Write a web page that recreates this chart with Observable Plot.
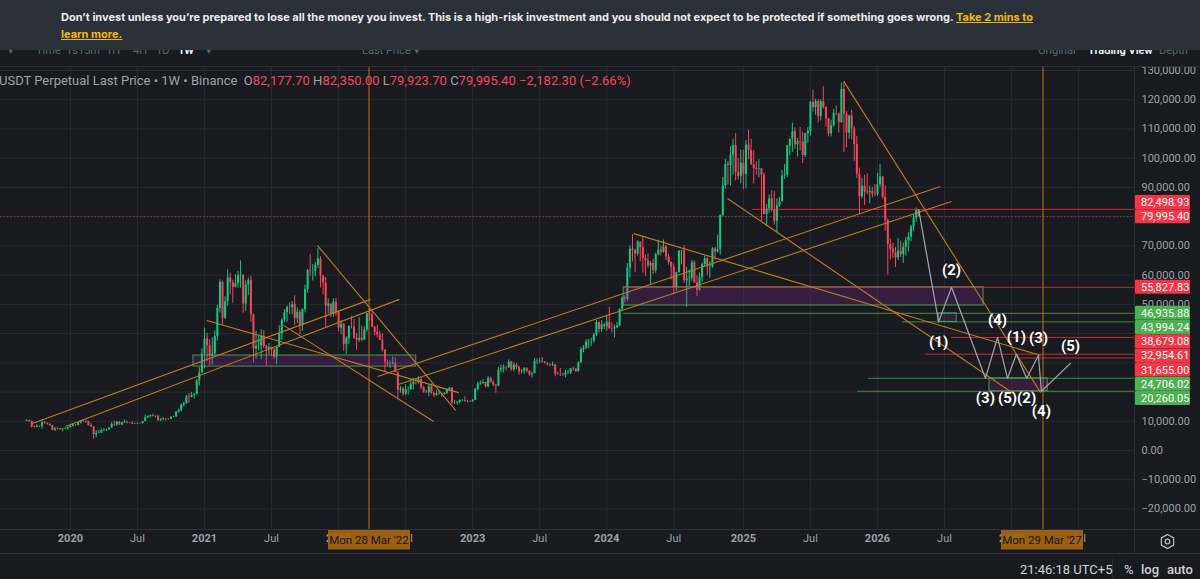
<!DOCTYPE html>
<html>
<head>
<meta charset="utf-8">
<title>BTCUSDT Perpetual · 1W</title>
<script src="https://cdn.jsdelivr.net/npm/d3@7"></script>
<script src="https://cdn.jsdelivr.net/npm/@observablehq/plot@0.6"></script>
<style>
  html, body { margin: 0; padding: 0; width: 1200px; height: 579px; overflow: hidden; background: #181a1f; }
  body { position: relative; font-family: Roboto, "Liberation Sans", sans-serif; }
  #chart { position: absolute; left: 0; top: 0; }
  #chart svg { display: block; }
  .abs { position: absolute; white-space: nowrap; }
  .rule { position: absolute; background: #2b2f36; }
  #toolbar span { position: absolute; top: 44px; font-size: 11px; line-height: 13px; color: #5e6673; white-space: nowrap; }
  #banner { position: absolute; left: 0; top: 0; width: 1200px; height: 50px; background: #2b3139; }
  #banner div { position: absolute; left: 61px; color: #eaecef; font: 700 11px Inter, "Noto Sans", sans-serif; white-space: nowrap; }
  #banner span { color: #f0b90b; text-decoration: underline; }
  #legend { left: -1px; top: 73px; font-size: 13px; line-height: 16px; color: #9ea2ab; }
  #legend .v { color: #f6465d; }
  #status span { position: absolute; top: 562px; font-size: 13px; line-height: 15px; color: #d1d4dc; white-space: nowrap; }
</style>
</head>
<body>
<div id="chart"></div>

<div id="toolbar">
  <span style="left:8px">▾</span>
  <span style="left:36px">Time</span>
  <span style="left:66px">1s</span>
  <span style="left:78px">15m</span>
  <span style="left:106px">1H</span>
  <span style="left:133px">4H</span>
  <span style="left:156px">1D</span>
  <span style="left:178px;color:#eaecef;font-weight:700">1W</span>
  <span style="left:206px">▾</span>
  <span style="left:362px">Last Price ▾</span>
  <span style="left:1038px">Original</span>
  <span style="left:1088px;color:#eaecef;font-weight:700">Trading View</span>
  <span style="left:1159px">Depth</span>
</div>

<div id="banner">
  <div style="top:10px">Don’t invest unless you’re prepared to lose all the money you invest. This is a high-risk investment and you should not expect to be protected if something goes wrong. <span>Take 2 mins to</span></div>
  <div style="top:27px"><span>learn more.</span></div>
</div>

<div class="rule" style="left:0;top:66px;width:1200px;height:1px"></div>
<div class="rule" style="left:1134px;top:66px;width:1px;height:487px"></div>
<div class="rule" style="left:0;top:529px;width:1200px;height:1px"></div>
<div class="rule" style="left:0;top:553px;width:1200px;height:1px"></div>
<div class="rule" style="left:1112px;top:559px;width:1px;height:20px"></div>

<div id="legend" class="abs"></div>

<svg class="abs" style="left:1159px;top:533px" width="17" height="17" viewBox="0 0 17 17">
  <path d="M8.5 1.5 L14.6 5 L14.6 12 L8.5 15.5 L2.4 12 L2.4 5 Z" fill="none" stroke="#b7bac1" stroke-width="1.3"/>
  <circle cx="8.5" cy="8.5" r="2.3" fill="none" stroke="#b7bac1" stroke-width="1.3"/>
</svg>

<div id="status">
  <span style="left:1020px">21:46:18 UTC+5</span>
  <span style="left:1124px">%</span>
  <span style="left:1141px;font-weight:500">log</span>
  <span style="left:1167px;font-weight:500">auto</span>
</div>

<script>
// Weekly bars in thousands of USDT, one [high, low, close] per week, Monday opens.
// Each week opens at the previous week's close.
const firstWeek = "2019-09-09";
const firstOpen = 10.0;

const bars2019 = [
  [10.5,9.9,10.3],[10.4,9.6,10.0],[10.0,7.7,8.0],[8.5,7.75,7.9],[8.8,7.8,8.3],[8.4,7.9,8.2],
  [10.5,7.3,9.5],[9.9,9.0,9.2],[9.5,8.7,9.0],[9.1,8.3,8.5],[8.5,6.8,6.9],[7.9,6.5,7.4],
  [7.8,7.1,7.5],[7.6,7.0,7.1],[7.5,6.4,7.3],[7.7,7.1,7.4],[7.9,6.9,7.8]
];
const bars2020 = [
  [8.5,7.7,8.2],[9.2,8.1,8.7],[8.8,8.3,8.6],[9.6,8.5,9.35],[10.2,9.1,10.15],[10.5,9.7,9.9],
  [10.2,9.3,9.95],[9.9,8.4,8.5],[9.2,8.0,8.0],[8.2,3.8,5.4],[6.9,4.4,5.8],[6.9,5.7,5.9],
  [7.4,5.9,6.8],[7.5,6.5,6.9],[7.3,6.5,7.1],[7.8,6.8,7.7],[9.5,7.6,8.9],[10.0,8.2,8.75],
  [9.9,8.2,9.7],[9.9,8.6,8.7],[9.7,8.6,9.45],[10.4,9.3,9.7],[10.0,9.1,9.4],[9.6,9.2,9.3],
  [9.8,8.9,9.0],[9.3,8.9,9.1],[9.5,9.0,9.25],[9.3,9.0,9.2],[10.0,9.1,9.9],[12.1,9.9,11.1],
  [11.9,10.9,11.6],[12.1,11.1,11.9],[12.5,11.5,11.6],[11.8,11.1,11.7],[12.1,9.9,10.3],[10.8,9.9,10.7],
  [11.2,10.2,10.9],[11.0,10.1,10.8],[10.9,10.4,10.7],[11.5,10.5,11.4],[11.7,11.2,11.5],[13.3,11.3,13.1],
  [14.1,12.8,13.8],[15.9,13.2,15.5],[16.5,14.8,16.0],[18.8,15.8,18.4],[19.5,16.2,18.2],[19.9,18.0,18.8],
  [19.4,17.6,19.2],[24.3,19.0,23.8],[28.4,22.0,26.5],[34.8,26.6,33.0]
];
const bars2021 = [
  [41.9,28.1,38.2],[40.1,30.4,35.8],[37.9,28.9,32.3],[38.5,29.2,33.1],[40.9,32.3,39.0],[49.7,37.4,48.6],
  [58.4,47.0,57.5],[58.0,43.0,45.2],[52.6,44.9,50.9],[61.8,49.4,59.0],[60.6,53.3,57.4],[58.2,50.4,55.8],
  [60.0,55.6,57.1],[61.2,55.5,59.8],[64.9,55.5,60.0],[57.0,47.0,50.1],[58.0,47.5,56.6],[59.0,52.9,58.2],
  [59.6,43.8,46.4],[46.7,30.0,34.7],[40.8,31.2,35.7],[39.5,34.0,35.8],[41.3,31.0,39.1],[41.0,34.8,35.6],
  [36.0,28.8,34.7],[36.6,32.7,35.3],[35.1,32.0,34.3],[34.9,31.1,31.8],[35.4,29.3,35.4],[42.6,35.2,39.9],
  [45.0,37.6,44.6],[48.2,43.8,47.1],[49.4,43.9,49.0],[50.5,46.4,48.8],[51.0,46.5,49.9],[52.9,42.8,45.2],
  [48.8,43.4,47.3],[48.0,39.6,42.8],[48.4,40.8,48.2],[56.6,47.1,55.0],[62.0,53.9,61.5],[67.0,59.5,61.3],
  [63.7,58.0,61.3],[64.2,59.4,63.3],[69.0,62.3,65.5],[66.3,55.6,59.7],[59.3,53.3,57.3],[59.2,42.0,49.4],
  [51.9,46.7,50.1],[50.0,45.5,46.7],[51.9,45.6,50.8],[52.0,45.9,47.3]
];
const bars2022 = [
  [47.6,40.5,41.9],[44.4,39.7,43.1],[43.5,34.0,36.3],[38.9,32.9,38.2],[42.7,36.3,42.4],[45.9,41.6,42.2],
  [44.8,38.0,38.4],[40.0,34.3,37.7],[45.4,37.0,38.4],[42.6,37.2,37.8],[42.3,37.6,41.3],[46.5,40.5,46.8],
  [48.2,44.3,46.4],[47.5,42.1,42.2],[42.4,39.2,40.4],[42.9,38.5,39.5],[40.8,37.6,37.7],[40.0,33.7,34.3],
  [34.5,26.7,30.1],[31.0,28.6,29.4],[30.6,28.0,29.5],[32.0,29.3,29.9],[31.7,26.6,26.6],[26.9,17.6,20.6],
  [21.9,19.6,21.0],[21.5,18.6,19.3],[22.5,18.8,20.8],[21.7,18.9,20.8],[24.3,20.7,22.6],[24.7,20.7,23.3],
  [24.2,22.4,23.2],[25.2,22.7,24.3],[25.0,20.8,21.5],[21.9,19.6,20.0],[20.6,19.5,19.8],[22.5,18.5,21.8],
  [22.8,19.3,19.4],[19.9,18.1,18.8],[20.5,18.5,19.3],[20.5,19.0,19.4],[19.6,18.2,19.2],[19.7,18.9,19.6],
  [21.1,19.2,20.8],[21.5,20.1,21.3],[21.5,15.6,16.3],[17.2,15.8,16.3],[16.8,15.5,16.5],[17.4,16.0,17.1],
  [17.4,16.7,17.1],[18.4,16.5,16.8],[17.1,16.3,16.8],[16.9,16.4,16.6]
];
const bars2023 = [
  [17.4,16.5,17.1],[21.3,17.1,20.9],[23.4,20.4,22.7],[23.8,22.3,23.0],[24.2,22.6,23.3],[23.4,21.4,21.8],
  [25.3,21.4,24.6],[25.1,23.1,23.2],[23.9,21.8,22.4],[22.6,19.6,22.1],[28.5,21.9,27.4],[29.2,26.6,27.9],
  [29.2,26.5,28.4],[28.8,27.2,28.3],[31.0,28.1,30.3],[30.5,27.1,27.6],[30.0,26.9,29.2],[29.8,27.7,28.4],
  [28.9,25.8,26.9],[27.7,26.1,27.1],[28.4,26.1,28.0],[28.4,26.5,27.1],[27.4,25.4,25.9],[26.8,24.8,26.3],
  [31.4,26.2,30.5],[31.3,29.5,30.6],[31.5,29.7,30.2],[31.8,29.9,30.3],[30.4,29.6,29.8],[29.9,28.9,29.3],
  [29.7,28.6,29.1],[30.2,28.7,29.3],[29.4,25.2,26.1],[26.8,25.8,26.0],[28.1,25.3,25.8],[26.4,25.4,25.8],
  [27.4,24.9,26.5],[27.5,26.0,26.5],[28.0,26.0,28.0],[28.6,27.1,27.9],[28.0,26.6,27.0],[30.3,26.8,30.0],
  [35.2,29.9,34.5],[35.9,33.4,35.0],[38.0,34.5,37.1],[37.9,34.8,37.4],[38.4,35.6,37.4],[40.0,36.7,39.5],
  [44.5,39.0,43.8],[44.0,40.2,41.4],[44.4,40.5,43.0],[43.6,41.3,42.3]
];
const bars2024 = [
  [45.9,40.8,43.9],[49.0,41.5,41.7],[43.6,40.3,41.6],[42.9,38.5,42.0],[43.9,41.8,42.6],[48.5,42.3,48.3],
  [52.8,47.7,52.1],[53.0,50.5,51.7],[64.0,50.9,62.4],[70.0,59.0,68.9],[73.8,64.5,68.4],[68.9,60.8,67.2],
  [71.8,66.5,71.3],[71.3,64.5,69.4],[72.8,60.7,65.7],[66.9,59.6,64.9],[67.2,62.4,63.1],[64.7,56.5,64.0],
  [65.5,60.2,61.5],[67.5,60.6,67.0],[71.9,66.6,68.5],[70.0,66.6,67.8],[72.0,67.5,69.6],[70.2,65.0,66.2],
  [67.2,63.4,64.3],[64.5,58.4,62.7],[63.8,53.5,55.8],[61.0,54.3,60.8],[68.4,60.7,68.2],[68.5,63.5,68.3],
  [70.0,57.2,58.1],[62.7,49.0,58.7],[61.8,56.1,58.9],[65.0,57.9,64.2],[64.9,57.2,57.3],[59.8,52.6,54.8],
  [60.7,54.6,59.1],[64.1,57.5,63.6],[66.5,62.7,65.6],[66.0,59.8,62.8],[64.5,58.9,62.9],[69.4,62.4,69.0],
  [69.5,65.1,67.9],[73.6,67.5,68.8],[80.6,66.8,80.4],[93.4,80.0,90.5],[99.6,89.4,97.9],[98.9,90.8,97.5],
  [104.0,90.5,101.1],[106.5,94.2,104.3],[108.4,92.2,95.2],[99.9,92.5,93.7],[102.7,91.2,98.3]
];
const bars2025 = [
  [102.7,89.3,94.5],[106.0,89.5,104.5],[109.6,99.5,102.6],[106.5,97.7,97.7],[102.5,91.2,96.5],[98.8,94.1,96.1],
  [99.5,93.3,96.3],[96.5,78.2,94.2],[95.0,81.4,80.7],[84.1,76.6,82.6],[87.5,81.2,86.1],[88.8,81.6,82.4],
  [88.5,77.1,78.4],[86.1,74.5,83.7],[86.5,83.1,85.1],[95.8,85.1,94.0],[97.9,92.8,94.3],[104.3,93.4,104.2],
  [105.8,100.8,106.5],[112.0,102.0,109.0],[110.4,103.0,104.6],[106.8,100.4,105.7],[110.5,102.6,105.5],[108.9,98.2,100.9],
  [108.5,100.2,108.4],[110.5,105.1,109.2],[119.5,107.5,119.1],[123.2,115.7,117.3],[120.2,114.7,119.4],[120.0,112.0,114.2],
  [120.0,112.7,119.3],[124.5,116.8,117.4],[117.6,110.6,113.5],[113.5,107.3,108.3],[113.0,107.3,111.1],[116.7,110.6,115.3],
  [117.9,114.4,115.2],[115.4,108.6,112.2],[125.7,111.9,123.5],[126.2,102.0,115.1],[115.9,103.5,108.6],[114.0,106.5,114.5],
  [116.4,106.3,110.0],[110.8,98.9,104.7],[107.5,93.0,94.5],[96.6,80.6,86.8],[93.1,86.1,90.4],[94.2,83.8,88.4],
  [94.6,87.5,88.2],[90.4,84.4,88.6],[90.0,86.4,87.7],[91.0,86.9,87.6]
];
const bars2026 = [
  [94.8,86.9,90.9],[97.9,90.0,93.6],[93.8,86.0,86.6],[90.5,75.0,78.6],[79.3,60.0,70.5],[72.3,65.1,68.8],
  [70.9,65.7,67.6],[69.5,62.6,65.9],[72.5,65.0,68.2],[71.6,66.0,67.0],[71.0,64.0,69.5],[72.8,66.5,71.8],
  [74.5,68.0,73.0],[77.0,71.5,76.5],[80.5,74.8,79.5],[83.0,78.0,82.1777]
];
// the running week, in full USDT
const lastBar = {open: 82177.70, high: 82350.00, low: 79923.70, close: 79995.40};

// price scale ticks and time scale labels
const priceTicks = [130000,120000,110000,100000,90000,80000,70000,60000,50000,40000,30000,20000,10000,0,-10000,-20000];
const yearTicks = ["2020-01-06","2021-01-04","2022-01-03","2023-01-02","2024-01-01","2025-01-06","2026-01-05","2027-01-04"];
const yearLabels = ["2020","2021","2022","2023","2024","2025","2026","2027"];
const julyTicks = ["2020-07-06","2021-07-05","2022-07-04","2023-07-03","2024-07-01","2025-07-07","2026-07-06","2027-07-05"];

// horizontal levels drawn from a start week to the price scale
const levelPrices = [82498.93, 55827.83, 46935.88, 43994.24, 38679.08, 32954.61, 31655.00, 24706.02, 20260.05];
const levelStarts = ["2025-01-31","2024-02-16","2024-02-16","2026-03-14","2026-07-25","2026-05-15","2027-01-28","2025-12-12","2025-11-12"];
const levelTones  = ["down","down","up","up","down","down","down","up","up"];

// rectangles
const zoneStarts = ["2020-12-05","2024-02-16","2026-06-20","2026-11-05"];
const zoneEnds   = ["2022-08-02","2026-10-20","2026-08-08","2027-04-12"];
const zoneLows   = [28700, 49600, 43994.24, 20260.05];
const zoneHighs  = [32500, 55827.83, 46935.88, 24706.02];

// trend lines: start and end anchors [date, price]
const trendStarts = [["2019-09-25",9240],["2019-12-24",8200],["2022-04-19",25300],["2022-06-14",22600],["2021-11-07",70100],
                     ["2021-01-10",44500],["2021-08-07",42800],["2024-03-14",74200],["2024-11-24",86200],["2025-10-06",126200]];
const trendEnds   = [["2022-03-31",51700],["2022-06-17",51700],["2026-06-25",90300],["2026-07-25",85200],["2022-11-17",13700],
                     ["2022-11-25",19800],["2022-09-18",9900],["2027-03-24",32500],["2027-01-09",19500],["2027-03-24",19800]];

// projected wave count
const waveDates  = ["2026-06-20","2026-07-25","2026-10-25","2026-11-27","2026-12-24","2027-01-17","2027-02-14","2027-03-18","2027-03-26","2027-06-13"];
const wavePrices = [43994.24, 55827.83, 24706.02, 38679.08, 24706.02, 32954.61, 24706.02, 32500, 20260.05, 29800];
const waveLabels = ["(1)","(2)","(3)","(4)","(5)","(1)","(2)","(3)","(4)","(5)"];
const waveSides  = ["below","above","below","above","below","above","below","above","below","above"];

// crosshair weeks
const cursorWeeks = ["2022-03-28","2027-03-29"];

const up = "#0ecb81", down = "#f6465d", tones = {up: "#4caf50", down: "#f23645"};
const orange = "#c27c1a", cursorColor = "#c0700e", grid = "#262a31", axisText = "#9ea2ab";
const font = "Roboto, 'Liberation Sans', sans-serif";
const day = d3.utcParse("%Y-%m-%d");
const fmt = d3.format(",.2f");
const farRight = day("2028-06-01"); // beyond the right edge; clipped to the frame

// candles
const weekly = [...bars2019, ...bars2020, ...bars2021, ...bars2022, ...bars2023, ...bars2024, ...bars2025, ...bars2026];
let prev = firstOpen;
const candles = weekly.map(([h, l, c], i) => {
  const o = prev; prev = c;
  return {date: d3.utcDay.offset(day(firstWeek), 7 * i), open: o * 1000, close: c * 1000,
          high: Math.max(h, o, c) * 1000, low: Math.min(l, o, c) * 1000};
});
const lastWeek = d3.utcDay.offset(day(firstWeek), 7 * weekly.length);
candles.push({date: lastWeek, ...lastBar});

const levels = levelPrices.map((p, i) => ({price: p, start: day(levelStarts[i]), tone: tones[levelTones[i]]}));
const zones = zoneStarts.map((s, i) => ({x1: day(s), x2: day(zoneEnds[i]), y1: zoneLows[i], y2: zoneHighs[i]}));
const trends = trendStarts.map((s, i) => ({x1: day(s[0]), y1: s[1], x2: day(trendEnds[i][0]), y2: trendEnds[i][1]}));
const waves = waveDates.map((d, i) => ({date: day(d), price: wavePrices[i], label: waveLabels[i], side: waveSides[i]}));
const wavePath = [{date: lastWeek, price: lastBar.high}, ...waves];

// crosshair verticals through the plot area, two device pixels wide so the hue survives image compression
function cursorLines(index, {x}, values, {height, marginTop, marginBottom}) {
  const g = d3.create("svg:g").attr("stroke", cursorColor).attr("stroke-width", 2).attr("stroke-opacity", 0.5);
  for (const w of cursorWeeks) {
    const cx = Math.floor(x(day(w)) / 2) * 2 + 1;
    g.append("line").attr("x1", cx).attr("x2", cx).attr("y1", marginTop).attr("y2", height - marginBottom);
  }
  return g.node();
}

// price tags on the right scale; the last price stays put and the others stack around it
function priceTags(index, {y}, values, {width, marginRight}) {
  const g = d3.create("svg:g").attr("font-family", font).attr("font-size", 11).attr("text-anchor", "start");
  const tags = levels.map(d => ({price: d.price, fill: d.tone, fixed: false}));
  tags.push({price: lastBar.close, fill: tones.down, fixed: true});
  tags.forEach(t => t.cy = y(t.price));
  tags.sort((a, b) => a.cy - b.cy);
  const k = tags.findIndex(t => t.fixed), h = 14.2;
  for (let i = k + 1; i < tags.length; ++i) tags[i].cy = Math.max(tags[i].cy, tags[i - 1].cy + h);
  for (let i = k - 1; i >= 0; --i) tags[i].cy = Math.min(tags[i].cy, tags[i + 1].cy - h);
  const x0 = width - marginRight + 1;
  g.selectAll("rect").data(tags).join("rect")
    .attr("x", x0).attr("y", t => t.cy - 7).attr("width", 55).attr("height", 14).attr("rx", 1)
    .attr("fill", t => t.fill);
  g.selectAll("text").data(tags).join("text")
    .attr("x", x0 + 6).attr("y", t => t.cy).attr("dy", "0.36em").attr("fill", "#ffffff")
    .text(t => fmt(t.price));
  return g.node();
}

// date tags on the time scale under each crosshair
function cursorTags(index, {x}, values, {height, marginBottom}) {
  const g = d3.create("svg:g").attr("font-family", font).attr("font-size", 11.5).attr("text-anchor", "middle");
  const y0 = height - marginBottom;
  const label = d3.utcFormat("%a %d %b '%y");
  for (const w of cursorWeeks) {
    const cx = x(day(w));
    g.append("rect").attr("x", cx - 41).attr("y", y0 + 0.5).attr("width", 82).attr("height", 20)
      .attr("fill", "#a8650f").attr("fill-opacity", 0.92);
    g.append("text").attr("x", cx).attr("y", y0 + 11).attr("dy", "0.35em")
      .attr("fill", "#15171c").text(label(day(w)));
  }
  return g.node();
}

const chart = Plot.plot({
  width: 1200,
  height: 579,
  marginTop: 66,
  marginRight: 66,
  marginBottom: 50,
  marginLeft: 0,
  style: {background: "transparent", fontFamily: font, overflow: "visible"},
  x: {type: "utc", domain: [day("2022-03-28"), day("2027-03-29")], range: [369, 1042], axis: null},
  y: {domain: [0, 130000], range: [450, 70], axis: null},
  marks: [
    // grid
    Plot.ruleY(priceTicks, {stroke: grid, strokeWidth: 1}),
    Plot.ruleX([...yearTicks, ...julyTicks].map(day), {stroke: grid, strokeWidth: 1, clip: true}),
    cursorLines,
    // last price line
    Plot.ruleY([lastBar.close], {stroke: down, strokeOpacity: 0.55, strokeDasharray: "1.5,2", clip: true}),
    // candles
    Plot.ruleX(candles, {x: "date", y1: "low", y2: "high", stroke: d => d.close >= d.open ? up : down, strokeWidth: 1}),
    Plot.ruleX(candles, {x: "date", y1: "open", y2: "close", stroke: d => d.close >= d.open ? up : down, strokeWidth: 2}),
    // zones
    Plot.rect(zones, {x1: "x1", x2: "x2", y1: "y1", y2: "y2", fill: "#9c27b0", fillOpacity: 0.22, stroke: "#4caf50", strokeOpacity: 0.85, strokeWidth: 1}),
    // levels
    Plot.ruleY(levels, {y: "price", x1: "start", x2: () => farRight, stroke: "tone", strokeOpacity: 0.75, strokeWidth: 1, clip: true}),
    // trend lines
    Plot.link(trends, {x1: "x1", y1: "y1", x2: "x2", y2: "y2", stroke: orange, strokeWidth: 1.1, clip: true}),
    // projected waves
    Plot.line(wavePath, {x: "date", y: "price", stroke: "#a3a6ad", strokeWidth: 1.2}),
    Plot.text(waves.filter(d => d.side === "above"), {x: "date", y: "price", text: "label", dy: -17, fill: "#ffffff", fontSize: 15, fontWeight: 700}),
    Plot.text(waves.filter(d => d.side === "below"), {x: "date", y: "price", text: "label", dy: 20, fill: "#ffffff", fontSize: 15, fontWeight: 700}),
    // price scale labels
    Plot.text(priceTicks, {y: d => d, text: d => fmt(d), frameAnchor: "right", dx: 7, textAnchor: "start", fill: axisText, fontSize: 11}),
    // time scale labels
    Plot.text(yearTicks.map(day), {x: d => d, text: (d, i) => yearLabels[i], frameAnchor: "bottom", dy: 12, fill: axisText, fontSize: 11, fontWeight: 700}),
    Plot.text(julyTicks.map(day), {x: d => d, text: () => "Jul", frameAnchor: "bottom", dy: 12, fill: axisText, fontSize: 11}),
    priceTags,
    cursorTags
  ]
});
document.getElementById("chart").append(chart);

// legend line
const o = lastBar;
const change = o.close - o.open;
document.getElementById("legend").innerHTML =
  `USDT Perpetual Last Price • 1W • Binance&nbsp;&nbsp;` +
  `O<span class="v">${fmt(o.open)}</span> H<span class="v">${fmt(o.high)}</span> ` +
  `L<span class="v">${fmt(o.low)}</span> C<span class="v">${fmt(o.close)}</span> ` +
  `<span class="v">${fmt(change)} (${d3.format(".2%")(change / o.open).replace("-", "−")})</span>`;
</script>
</body>
</html>
